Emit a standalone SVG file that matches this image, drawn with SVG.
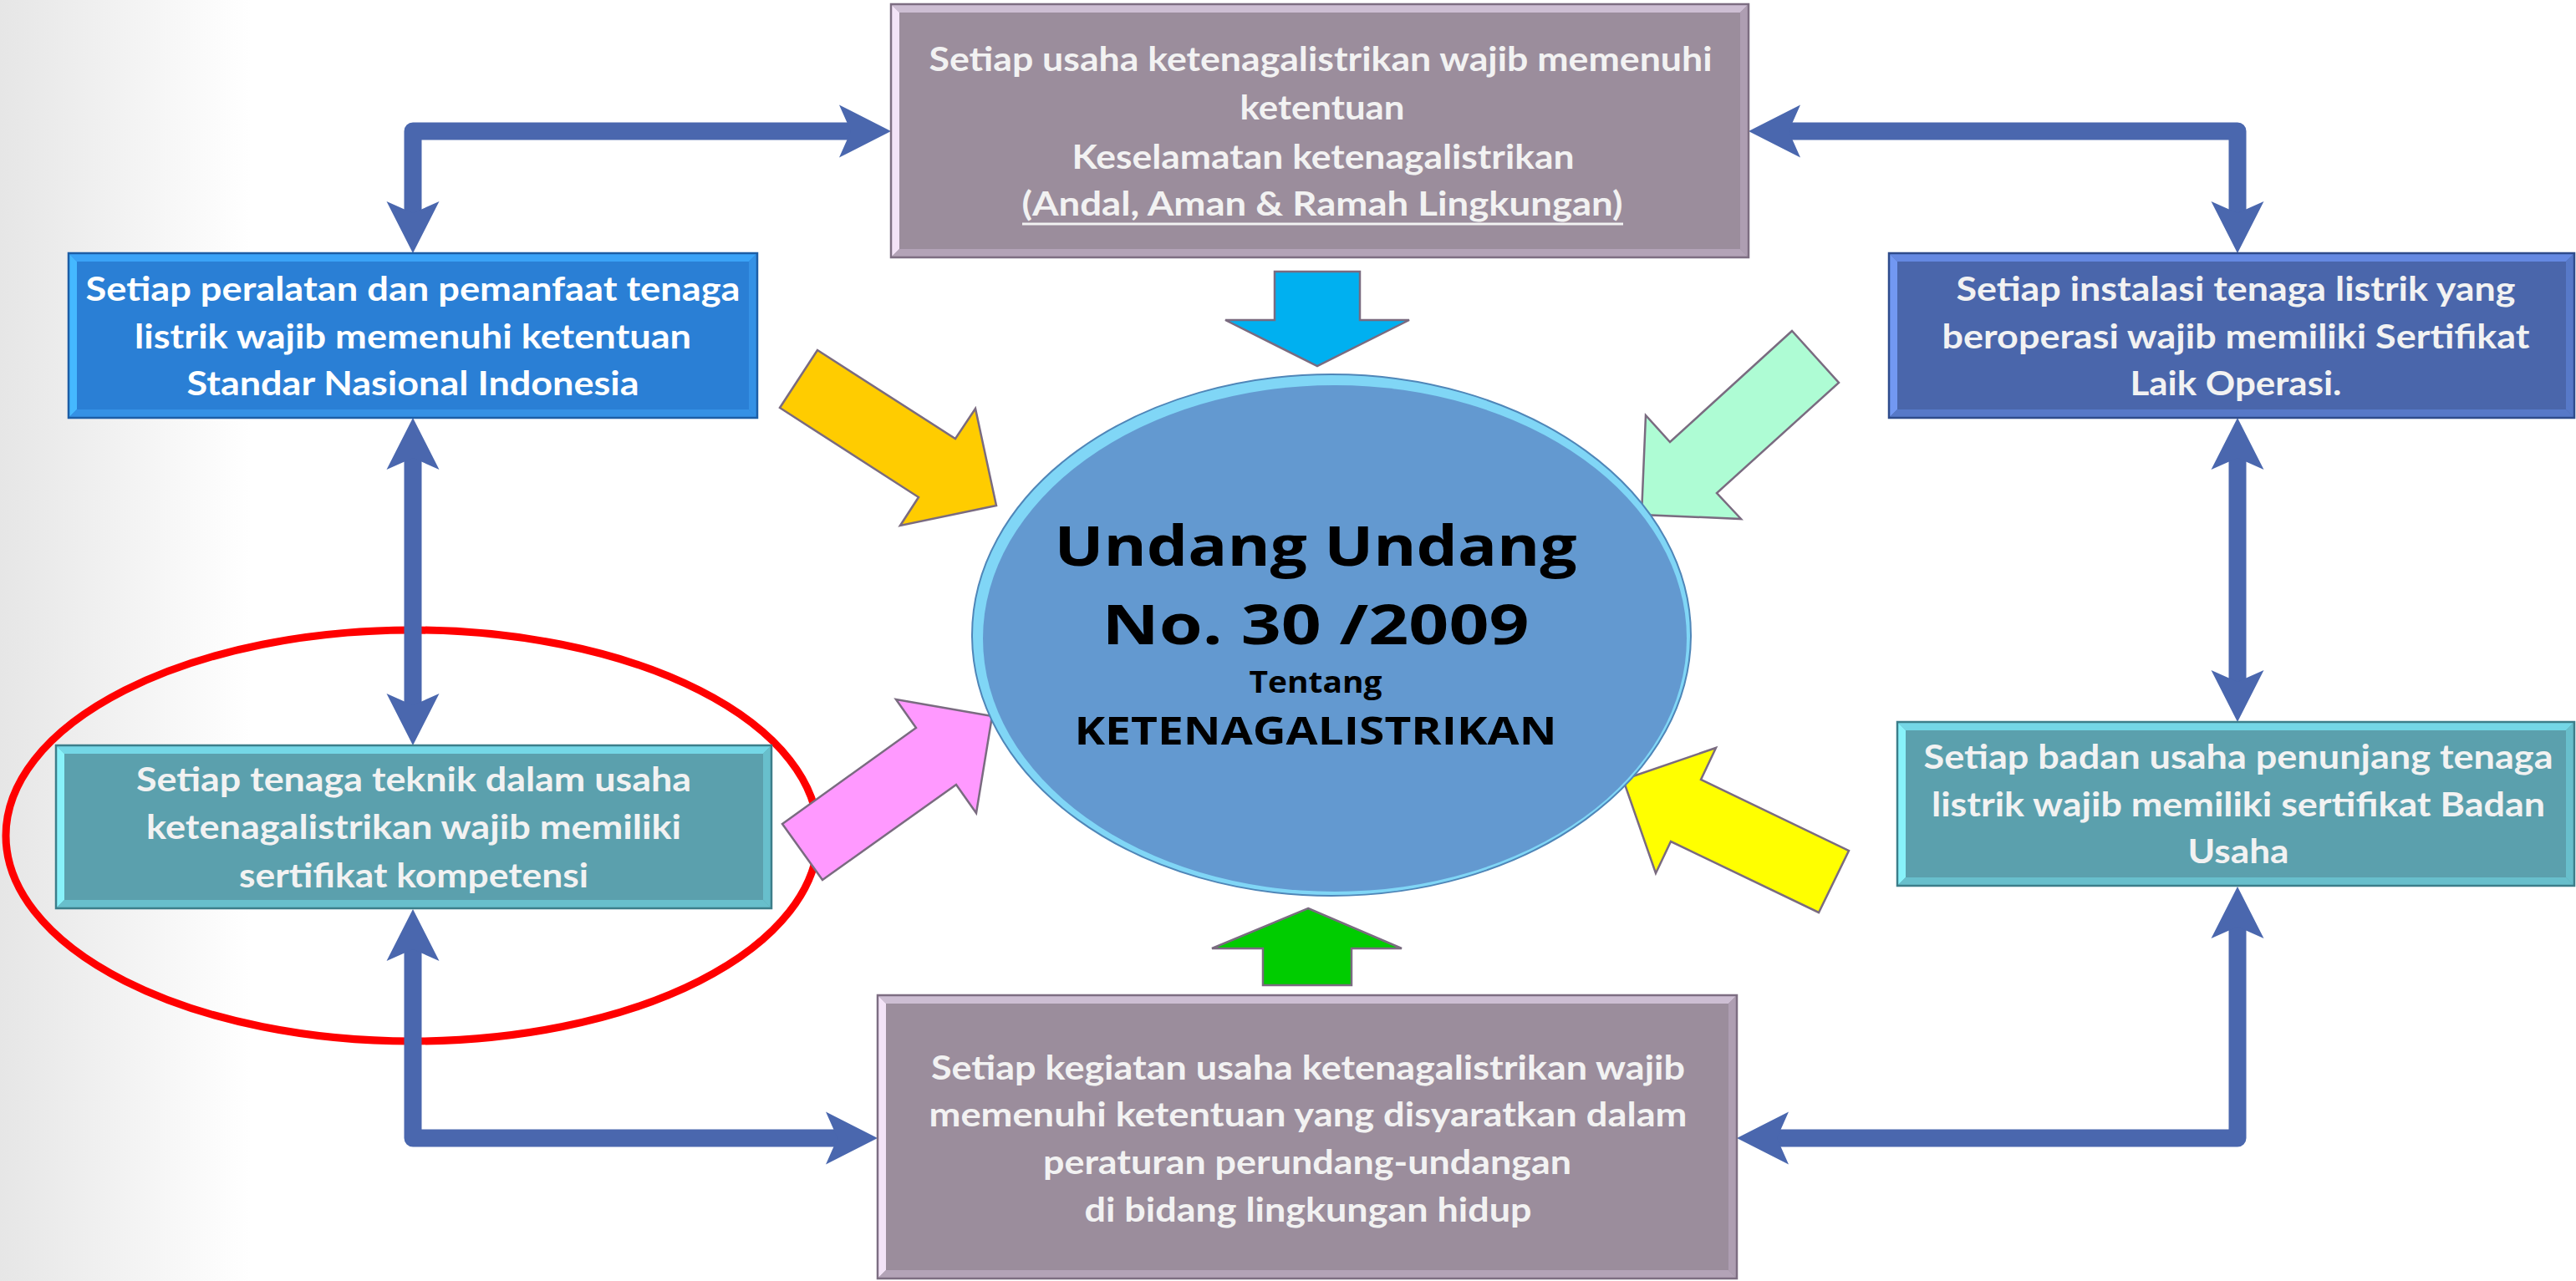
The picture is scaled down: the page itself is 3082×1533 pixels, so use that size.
<svg xmlns="http://www.w3.org/2000/svg" width="3082" height="1533" viewBox="0 0 3082 1533">
<defs>
<style>
.conn{fill:none;stroke:#4A67AE;stroke-width:21;stroke-linejoin:round;marker-start:url(#ah);marker-end:url(#ah)}
.t{font-family:Lato,"Liberation Sans",Arial,sans-serif;font-weight:700;font-size:40px;text-anchor:middle;fill:#F2F2F2}
.tw{fill:#FFFFFF}
.ct{font-family:"Open Sans","Liberation Sans",Arial,sans-serif;font-weight:700;text-anchor:middle;fill:#000000}
.edge{fill:none;stroke-width:2.5}
.blk{stroke:#7A6B80;stroke-width:2.5;stroke-linejoin:miter}
</style>
<linearGradient id="bg" x1="0" y1="0" x2="300" y2="0" gradientUnits="userSpaceOnUse">
<stop offset="0" stop-color="#E6E6E6"/>
<stop offset="1" stop-color="#FFFFFF"/>
</linearGradient>
<marker id="ah" markerUnits="userSpaceOnUse" markerWidth="64" markerHeight="66" viewBox="0 -33 64 66" refX="16" refY="0" orient="auto-start-reverse">
<path d="M0,-31.5 L62,0 L0,31.5 L14,0 Z" fill="#4A67AE"/>
</marker>
</defs>
<rect x="0" y="0" width="3082" height="1533" fill="url(#bg)"/>

<ellipse id="highlight-ring" cx="493" cy="1000" rx="486" ry="246" fill="none" stroke="#FF0000" stroke-width="9"/>

<g id="connectors">
<path class="conn" d="M1020,157 L494,157 L494,257"/>
<path class="conn" d="M2138,157 L2677,157 L2677,257"/>
<path class="conn" d="M494,546 L494,846"/>
<path class="conn" d="M494,1134 L494,1362 L1004,1362"/>
<path class="conn" d="M2124,1362 L2677,1362 L2677,1107"/>
<path class="conn" d="M2677,546 L2677,818"/>
</g>

<g id="node-top">
<rect x="1066" y="5" width="1026" height="303" fill="#9B8D9C"/>
<polygon points="1066,5 2092,5 2082,15 1076,15" fill="#CDBED3"/>
<polygon points="1066,5 1076,15 1076,298 1066,308" fill="#F3E3F7"/>
<polygon points="1066,308 1076,298 2082,298 2092,308" fill="#B3A3B7"/>
<polygon points="2092,5 2092,308 2082,298 2082,15" fill="#AE9EB2"/>
<rect class="edge" x="1066" y="5" width="1026" height="303" stroke="#7D6E82"/>
<text class="t" x="1580" y="85" textLength="937" lengthAdjust="spacingAndGlyphs">Setiap usaha ketenagalistrikan wajib memenuhi</text>
<text class="t" x="1582" y="143" textLength="197" lengthAdjust="spacingAndGlyphs">ketentuan</text>
<text class="t" x="1583" y="202" textLength="601" lengthAdjust="spacingAndGlyphs">Keselamatan ketenagalistrikan</text>
<text class="t" x="1582" y="258" textLength="719" lengthAdjust="spacingAndGlyphs">(Andal, Aman &amp; Ramah Lingkungan)</text>
<line x1="1223" y1="268" x2="1942" y2="268" stroke="#F2F2F2" stroke-width="3"/>
</g>

<g id="node-left-top">
<rect x="82" y="303" width="824" height="197" fill="#2A7FD5"/>
<polygon points="82,303 906,303 896,313 92,313" fill="#3BA3F7"/>
<polygon points="82,303 92,313 92,490 82,500" fill="#45B8FF"/>
<polygon points="82,500 92,490 896,490 906,500" fill="#3591E5"/>
<polygon points="906,303 906,500 896,490 896,313" fill="#3591E5"/>
<rect class="edge" x="82" y="303" width="824" height="197" stroke="#1D5EA6"/>
<text class="t tw" x="494" y="360" textLength="783" lengthAdjust="spacingAndGlyphs">Setiap peralatan dan pemanfaat tenaga</text>
<text class="t tw" x="494" y="417" textLength="666" lengthAdjust="spacingAndGlyphs">listrik wajib memenuhi ketentuan</text>
<text class="t tw" x="494" y="473" textLength="541" lengthAdjust="spacingAndGlyphs">Standar Nasional Indonesia</text>
</g>

<g id="node-right-top">
<rect x="2260" y="303" width="820" height="197" fill="#4A66AB"/>
<polygon points="2260,303 3080,303 3070,313 2270,313" fill="#6589E2"/>
<polygon points="2260,303 2270,313 2270,490 2260,500" fill="#7298F2"/>
<polygon points="2260,500 2270,490 3070,490 3080,500" fill="#5779C8"/>
<polygon points="3080,303 3080,500 3070,490 3070,313" fill="#5779C8"/>
<rect class="edge" x="2260" y="303" width="820" height="197" stroke="#2F4C8C"/>
<text class="t" x="2675" y="360" textLength="669" lengthAdjust="spacingAndGlyphs">Setiap instalasi tenaga listrik yang</text>
<text class="t" x="2675" y="417" textLength="703" lengthAdjust="spacingAndGlyphs">beroperasi wajib memiliki Sertifikat</text>
<text class="t" x="2675" y="473" textLength="253" lengthAdjust="spacingAndGlyphs">Laik Operasi.</text>
</g>

<g id="node-left-mid">
<rect x="67" y="892" width="856" height="195" fill="#5BA0AD"/>
<polygon points="67,892 923,892 913,902 77,902" fill="#74D7E6"/>
<polygon points="67,892 77,902 77,1077 67,1087" fill="#88F2FA"/>
<polygon points="67,1087 77,1077 913,1077 923,1087" fill="#68BFCC"/>
<polygon points="923,892 923,1087 913,1077 913,902" fill="#68BFCC"/>
<rect class="edge" x="67" y="892" width="856" height="195" stroke="#3C7E8A"/>
<text class="t" x="495" y="947" textLength="664" lengthAdjust="spacingAndGlyphs">Setiap tenaga teknik dalam usaha</text>
<text class="t" x="495" y="1004" textLength="640" lengthAdjust="spacingAndGlyphs">ketenagalistrikan wajib memiliki</text>
<text class="t" x="495" y="1062" textLength="418" lengthAdjust="spacingAndGlyphs">sertifikat kompetensi</text>
</g>

<g id="node-right-mid">
<rect x="2270" y="864" width="810" height="196" fill="#5BA0AD"/>
<polygon points="2270,864 3080,864 3070,874 2280,874" fill="#74D7E6"/>
<polygon points="2270,864 2280,874 2280,1050 2270,1060" fill="#88F2FA"/>
<polygon points="2270,1060 2280,1050 3070,1050 3080,1060" fill="#68BFCC"/>
<polygon points="3080,864 3080,1060 3070,1050 3070,874" fill="#68BFCC"/>
<rect class="edge" x="2270" y="864" width="810" height="196" stroke="#3C7E8A"/>
<text class="t" x="2678" y="920" textLength="753" lengthAdjust="spacingAndGlyphs">Setiap badan usaha penunjang tenaga</text>
<text class="t" x="2678" y="977" textLength="734" lengthAdjust="spacingAndGlyphs">listrik wajib memiliki sertifikat Badan</text>
<text class="t" x="2678" y="1033" textLength="121" lengthAdjust="spacingAndGlyphs">Usaha</text>
</g>

<g id="node-bottom">
<rect x="1050" y="1191" width="1028" height="339" fill="#9B8D9C"/>
<polygon points="1050,1191 2078,1191 2068,1201 1060,1201" fill="#CDBED3"/>
<polygon points="1050,1191 1060,1201 1060,1520 1050,1530" fill="#F3E3F7"/>
<polygon points="1050,1530 1060,1520 2068,1520 2078,1530" fill="#B3A3B7"/>
<polygon points="2078,1191 2078,1530 2068,1520 2068,1201" fill="#AE9EB2"/>
<rect class="edge" x="1050" y="1191" width="1028" height="339" stroke="#7D6E82"/>
<text class="t" x="1565" y="1292" textLength="902" lengthAdjust="spacingAndGlyphs">Setiap kegiatan usaha ketenagalistrikan wajib</text>
<text class="t" x="1565" y="1348" textLength="907" lengthAdjust="spacingAndGlyphs">memenuhi ketentuan yang disyaratkan dalam</text>
<text class="t" x="1564" y="1405" textLength="632" lengthAdjust="spacingAndGlyphs">peraturan perundang-undangan</text>
<text class="t" x="1565" y="1462" textLength="535" lengthAdjust="spacingAndGlyphs">di bidang lingkungan hidup</text>
</g>

<g id="block-arrows">
<polygon class="blk" points="1525,325 1627,325 1627,383 1686,383 1576,438 1466,383 1525,383" fill="#00B0F0"/>
<polygon class="blk" points="1565,1087 1677,1135 1617,1135 1617,1179 1511,1179 1511,1135 1450,1135" fill="#00CC00" stroke="#808080"/>
<polygon class="blk" points="978,419 1143,525 1167,489 1192,605 1077,629 1099,595 933,488" fill="#FFCC00"/>
<polygon class="blk" points="2144,396 1998,529 1969,497 1964,616 2083,621 2054,590 2200,458" fill="#AEFCD4"/>
<polygon class="blk" points="936,986 1096,871 1072,837 1187,857 1168,973 1144,939 984,1053" fill="#FF99FF"/>
<polygon class="blk" points="1942,933 2053,895 2035,933 2212,1018 2176,1092 1999,1007 1981,1045" fill="#FFFF00"/>
</g>

<g id="node-center">
<ellipse cx="1593" cy="760" rx="430" ry="312" fill="#80D6F6" stroke="#4F86B8" stroke-width="2"/>
<ellipse cx="1597" cy="764" rx="421" ry="303" fill="#6399D0"/>
<text class="ct" x="1574" y="677" font-size="67" textLength="625" lengthAdjust="spacingAndGlyphs">Undang Undang</text>
<text class="ct" x="1574" y="771" font-size="67" textLength="511" lengthAdjust="spacingAndGlyphs">No. 30 /2009</text>
<text class="ct" x="1574" y="829" font-size="35" textLength="159" lengthAdjust="spacingAndGlyphs">Tentang</text>
<text class="ct" x="1574" y="891" font-size="46" textLength="577" lengthAdjust="spacingAndGlyphs">KETENAGALISTRIKAN</text>
</g>
</svg>
